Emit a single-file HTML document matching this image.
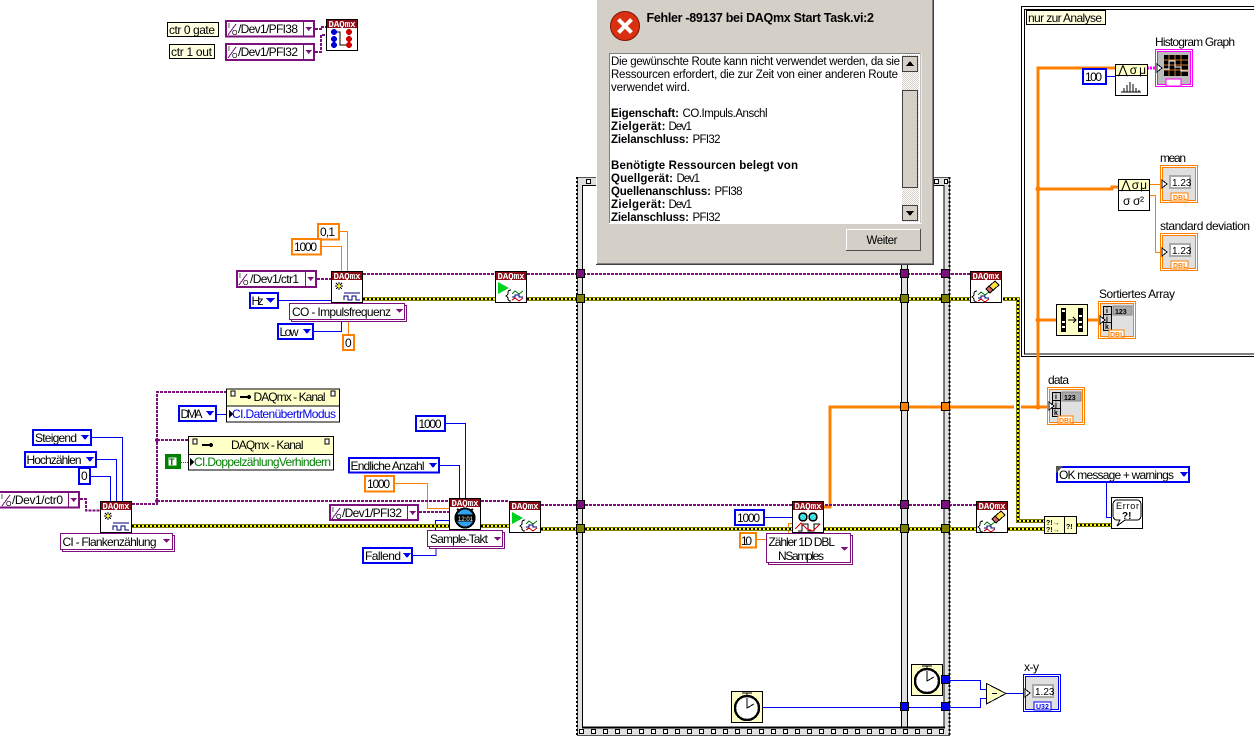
<!DOCTYPE html>
<html><head><meta charset="utf-8"><style>
html,body{margin:0;padding:0;background:#fff;width:1254px;height:751px;overflow:hidden}
svg{display:block;position:absolute;left:0;top:0;shape-rendering:crispEdges}
text{font-family:"Liberation Sans",sans-serif;font-size:12px;fill:#000}
.w{fill:none}
.hd{fill:#fff;font-size:9px;font-weight:bold;font-family:"Liberation Mono",monospace}
.blu{fill:#fff;stroke:#0000f0;stroke-width:2}
.pur{fill:#fff;stroke:#7b0f7b;stroke-width:2}
.org{fill:#fff;stroke:#ff8000;stroke-width:2}
.ring{fill:#fff;stroke:#7b0f7b;stroke-width:1}
.note{fill:#ffffe1;stroke:#000;stroke-width:1}
.d{font-size:11.5px}.b{font-size:11.5px;font-weight:bold}
.ico{fill:#fff;stroke:#000;stroke-width:1}
</style></head><body>
<svg width="1254" height="751" viewBox="0 0 1254 751" xmlns="http://www.w3.org/2000/svg">
<defs>
<pattern id="sq" width="12" height="12" patternUnits="userSpaceOnUse" x="723" y="729"><rect x=".5" y=".5" width="4" height="4" fill="#fff" stroke="#000"/></pattern>
<pattern id="hatch" width="2" height="2" patternUnits="userSpaceOnUse"><rect width="2" height="2" fill="#fff"/><rect width="1" height="1" fill="#d4d0c8"/><rect x="1" y="1" width="1" height="1" fill="#d4d0c8"/></pattern>
</defs>
<rect width="1254" height="751" fill="#fff"/>

<!-- sequence frame -->
<rect x="577.5" y="177.5" width="372" height="558" fill="#e0e0e0" stroke="#555"/>
<path d="M577 177V736M949.5 177V736" stroke="#000" stroke-width="2" stroke-dasharray="2 2" fill="none"/>
<rect x="582.5" y="185.5" width="319" height="541.5" fill="#fff" stroke="#000"/>
<rect x="907.5" y="185.5" width="36.5" height="541.5" fill="#fff" stroke="#000"/>
<path d="M582 727.5H945" stroke="#000" stroke-width="2"/>
<rect x="579" y="729" width="368" height="6" fill="url(#sq)"/>
<rect x="586.5" y="179.5" width="4" height="4" fill="#fff" stroke="#000"/>
<rect x="934.5" y="179.5" width="4" height="4" fill="#fff" stroke="#000"/>
<rect x="944.5" y="179.5" width="3" height="4" fill="#fff" stroke="#000"/>

<!-- analysis box -->
<rect x="1021.5" y="6.5" width="240" height="350" fill="#fff" stroke="#000"/>
<rect x="1024.5" y="9.5" width="240" height="344.5" fill="#fff" stroke="#000"/>

<!-- thin wires -->
<g class="w" stroke="#ff8000" stroke-width="1" fill="none">
<path d="M340 231.5H347.5V271M322 246.5H341.5V271M348.5 334V320M395 483.5H427.5V508.5H449M757 539.5H766M788.5 533V523.5H792M1150 184.5H1160M1150 195.5H1155.5V252.5H1160"/>
</g>
<g class="w" stroke="#ff8000" stroke-width="2.6" fill="none">
<path d="M824 507H830V407H1047M1038 407V68H1115M1038 189H1112V187H1118M1038 320H1056M1088 320H1098"/>
</g>
<circle cx="1038" cy="189" r="2.5" fill="#ff8000"/><circle cx="1038" cy="320" r="2.5" fill="#ff8000"/><circle cx="1038" cy="407" r="2.5" fill="#ff8000"/>
<g class="w" stroke="#0000f0" stroke-width="1" fill="none">
<path d="M92 437.5H122.5V501M97 459.5H116.5V501M91 476.5H110.5V501M217 414.5H226M279 300.5H331M314 331.5H341.5V321M446 423.5H465.5V498M440 465.5H459.5V498M413 555.5H436V547M435.5 530V520.5H449M765 517.5H792M1107 76.5H1115M1106.5 483V517.5H1111M1006 693.5H1024"/>
</g>
<g class="w" stroke="#0000f0" stroke-width="1" fill="none"><path d="M763 707.5H980.5V698.5H986M945 680.5H980.5V689.5H986"/></g>
<path d="M181 462.5H188" stroke="#008000" stroke-dasharray="1 1" fill="none"/>
<path d="M1147 68H1156" stroke="#ff00ff" stroke-width="3" stroke-dasharray="2 1" fill="none"/>

<!-- task wires -->
<g class="w" stroke="#7b0f7b" stroke-width="2" stroke-dasharray="3 1" fill="none">
<path d="M315 29H322V27H326M315 52H321V35H326M317 279H331M80 499H86V510.5H100M132 504H157V392H226M157 440H188M157 501H449M419 512H449M481 501H509M541 505H976M363 274H495M527 274H970"/>
</g>
<circle cx="157" cy="440" r="2" fill="#7b0f7b"/><circle cx="157" cy="501" r="2" fill="#7b0f7b"/>
<!-- error wires -->
<path d="M1009 299H1017.5V521H1044" stroke="#fff" stroke-width="7" fill="none"/>
<g fill="none">
<path stroke="#808000" stroke-width="4" d="M132 526H449M481 526H509M541 529H792M824 529H976M1008 529H1044M1076 525H1111M363 299H495M527 299H970M1003 299H1018V521H1044"/>
<path stroke="#ffff00" stroke-width="2" d="M132 526H449M481 526H509M541 529H792M824 529H976M1008 529H1044M1076 525H1111M363 299H495M527 299H970M1003 299H1018V521H1044"/>
<path stroke="#000" stroke-width="2" stroke-dasharray="2 2" d="M132 526H449M481 526H509M541 529H792M824 529H976M1008 529H1044M1076 525H1111M363 299H495M527 299H970M1003 299H1018V521H1044"/>
</g>

<!-- tunnels -->
<g stroke="#000">
<g fill="#7b0f7b"><rect x="576.5" y="269.5" width="8" height="8"/><rect x="900.5" y="269.5" width="8" height="8"/><rect x="941.5" y="269.5" width="8" height="8"/><rect x="576.5" y="500.5" width="8" height="8"/><rect x="900.5" y="500.5" width="8" height="8"/><rect x="941.5" y="500.5" width="8" height="8"/></g>
<g fill="#808000"><rect x="576.5" y="294.5" width="8" height="8"/><rect x="900.5" y="294.5" width="8" height="8"/><rect x="941.5" y="294.5" width="8" height="8"/><rect x="576.5" y="524.5" width="8" height="8"/><rect x="900.5" y="524.5" width="8" height="8"/><rect x="941.5" y="524.5" width="8" height="8"/></g>
<g fill="#ff8000"><rect x="900.5" y="402.5" width="8" height="8"/><rect x="941.5" y="402.5" width="8" height="8"/></g>
<g fill="#0000f0"><rect x="900.5" y="702.5" width="8" height="8"/><rect x="941.5" y="702.5" width="8" height="8"/></g>
</g>

<!-- notes -->
<rect class="note" x="167.5" y="22.5" width="51" height="14"/><text x="169" y="34" textLength="46">ctr 0 gate</text>
<rect class="note" x="169.5" y="44.5" width="45" height="14"/><text x="171" y="56" textLength="41">ctr 1 out</text>
<rect class="note" x="1026.5" y="10.5" width="79" height="14"/><text x="1028" y="22" textLength="74">nur zur Analyse</text>

<!-- purple IO constants -->
<g>
<rect class="pur" x="226" y="21" width="88" height="15.5"/><path d="M303.5 21V36" stroke="#7b0f7b"/><path d="M305.5 27H312L308.7 31Z" fill="#7b0f7b"/><text x="238" y="33" textLength="60">/Dev1/PFI38</text><text x="228" y="28" style="font-size:7px">I</text><path d="M236 24L228 35" stroke="#7b0f7b"/><text x="232" y="35" style="font-size:7px">O</text>
<rect class="pur" x="226" y="44" width="88" height="16"/><path d="M303.5 44V60" stroke="#7b0f7b"/><path d="M305.5 50H312L308.7 54Z" fill="#7b0f7b"/><text x="238" y="56" textLength="60">/Dev1/PFI32</text><text x="228" y="51" style="font-size:7px">I</text><path d="M236 47L228 58" stroke="#7b0f7b"/><text x="232" y="58" style="font-size:7px">O</text>
<rect class="pur" x="237" y="271" width="79" height="16"/><path d="M305.5 271V287" stroke="#7b0f7b"/><path d="M307.5 277H314L310.7 281Z" fill="#7b0f7b"/><text x="250" y="283" textLength="49">/Dev1/ctr1</text><text x="239" y="278" style="font-size:7px">I</text><path d="M247 274L239 285" stroke="#7b0f7b"/><text x="243" y="285" style="font-size:7px">O</text>
<rect class="pur" x="-2" y="492" width="81" height="15.5"/><path d="M68.5 492V507" stroke="#7b0f7b"/><path d="M70.5 498H77L73.7 502Z" fill="#7b0f7b"/><text x="12" y="504" textLength="51">/Dev1/ctr0</text><text x="1" y="499" style="font-size:7px">I</text><path d="M10 495L2 506" stroke="#7b0f7b"/><text x="6" y="506" style="font-size:7px">O</text>
<rect class="pur" x="330" y="505" width="88" height="15"/><path d="M407.5 505V520" stroke="#7b0f7b"/><path d="M409.5 511H416L412.7 515Z" fill="#7b0f7b"/><text x="342" y="517" textLength="60">/Dev1/PFI32</text><text x="332" y="512" style="font-size:7px">I</text><path d="M340 508L332 519" stroke="#7b0f7b"/><text x="336" y="519" style="font-size:7px">O</text>
</g>

<!-- orange constants -->
<rect class="org" x="318" y="224" width="21" height="15.5"/><text x="320" y="236" textLength="15">0,1</text>
<rect class="org" x="292" y="239" width="29" height="15.5"/><text x="294" y="251" textLength="23">1000</text>
<rect class="org" x="343" y="335" width="11" height="15"/><text x="345" y="347" textLength="7">0</text>
<rect class="org" x="365" y="476" width="29" height="15.5"/><text x="367" y="488" textLength="23">1000</text>
<rect class="org" x="740" y="533" width="16" height="14.5"/><text x="741" y="545" textLength="11">10</text>

<!-- blue constants -->
<rect class="blu" x="250" y="293" width="28" height="15"/><text x="251.5" y="305" textLength="12">Hz</text><path d="M266 298H275L270.5 303Z" fill="#0000f0"/>
<rect class="blu" x="278" y="324" width="35" height="15"/><text x="279.5" y="336" textLength="19">Low</text><path d="M303 329H311L307 334Z" fill="#0000f0"/>
<rect class="blu" x="33" y="430" width="58" height="15"/><text x="35" y="442" textLength="42">Steigend</text><path d="M81 435H89L85 440Z" fill="#0000f0"/>
<rect class="blu" x="25" y="452" width="71" height="15"/><text x="26.5" y="464" textLength="55">Hochzählen</text><path d="M86 457H94L90 462Z" fill="#0000f0"/>
<rect class="blu" x="79" y="468" width="11" height="16"/><text x="81" y="480" textLength="7">0</text>
<rect class="blu" x="179" y="406" width="37" height="15"/><text x="180.5" y="418" textLength="22">DMA</text><path d="M206 411H214L210 416Z" fill="#0000f0"/>
<rect class="blu" x="416" y="416" width="29" height="15"/><text x="418.5" y="428" textLength="23">1000</text>
<rect class="blu" x="349" y="458" width="90" height="14.5"/><text x="350.5" y="470" textLength="74">Endliche Anzahl</text><path d="M429 463H437L433 468Z" fill="#0000f0"/>
<rect class="blu" x="363" y="548" width="49" height="15"/><text x="365" y="560" textLength="36">Fallend</text><path d="M403 553H411L407 558Z" fill="#0000f0"/>
<rect class="blu" x="735" y="510" width="29" height="15"/><text x="737" y="522" textLength="23">1000</text>
<rect class="blu" x="1057" y="467" width="132" height="15"/><text x="1059" y="479" textLength="115">OK message + warnings</text><path d="M1180 472H1188L1184 477Z" fill="#0000f0"/><path d="M1056 466H1063L1056 473Z" fill="#555"/>
<rect class="blu" x="1083" y="69" width="23" height="15"/><text x="1085" y="81" textLength="17">100</text>

<!-- rings -->
<rect class="ring" x="291.5" y="305.5" width="115" height="16"/><rect class="ring" x="289.5" y="303.5" width="115" height="16"/><text x="292" y="316" textLength="99">CO - Impulsfrequenz</text><path d="M396 309H403L399.5 313Z" fill="#7b0f7b"/>
<rect class="ring" x="62.5" y="535.5" width="112" height="16"/><rect class="ring" x="60.5" y="533.5" width="112" height="16"/><text x="62.5" y="546" textLength="94">CI - Flankenzählung</text><path d="M163 539H170L166.5 543Z" fill="#7b0f7b"/>
<rect class="ring" x="429.5" y="532.5" width="75" height="16"/><rect class="ring" x="427.5" y="530.5" width="75" height="16"/><text x="430" y="543" textLength="58">Sample-Takt</text><path d="M494 537H501L497.5 541Z" fill="#7b0f7b"/>
<rect class="ring" x="768.5" y="535.5" width="84" height="29"/><rect class="ring" x="766.5" y="533.5" width="84" height="29"/><text x="768.5" y="546" textLength="66.5">Zähler 1D DBL</text><text x="778" y="560" textLength="46">NSamples</text><path d="M841 547H848L844.5 551Z" fill="#7b0f7b"/>

<!-- property nodes -->
<rect x="226.5" y="389" width="113" height="33" fill="#fff" stroke="#000"/><rect x="227" y="389.5" width="112" height="16.5" fill="#ffffc8"/><path d="M227 406H339" stroke="#000"/>
<text x="253.5" y="401" textLength="72">DAQmx - Kanal</text><path d="M240 397H247" stroke="#000" stroke-width="2"/><circle cx="249" cy="397" r="2" fill="#000"/><rect x="231" y="391" width="4" height="5" fill="#fff" stroke="#000"/><rect x="331" y="391" width="4" height="5" fill="#fff" stroke="#000"/>
<path d="M229 410V418L233 414Z" fill="#000"/><text x="232" y="418" textLength="104" style="fill:#0000f0">CI.DatenübertrModus</text>
<rect x="188.5" y="436.5" width="145" height="33.5" fill="#fff" stroke="#000"/><rect x="189" y="437" width="144" height="17" fill="#ffffc8"/><path d="M189 454.5H333" stroke="#000"/>
<text x="231" y="449" textLength="72.5">DAQmx - Kanal</text><path d="M202 445H209" stroke="#000" stroke-width="2"/><circle cx="211" cy="445" r="2" fill="#000"/><rect x="193" y="439" width="4" height="5" fill="#fff" stroke="#000"/><rect x="325" y="439" width="4" height="5" fill="#fff" stroke="#000"/>
<path d="M190 458V466L194 462Z" fill="#000"/><text x="194" y="466" textLength="137" style="fill:#008000">CI.DoppelzählungVerhindern</text>
<rect x="165" y="454" width="16" height="15" fill="#008000"/><rect x="168" y="457" width="9" height="9" fill="#fff" stroke="#008000"/><text x="169" y="465" style="font-size:9px;font-weight:bold;fill:#006000">T</text>

<!-- DAQmx nodes -->
<g transform="translate(326,19)"><rect class="ico" x=".5" y=".5" width="31" height="31"/><rect x="1" y="1" width="30" height="8" fill="#8b0a14"/><text class="hd" x="2.5" y="8" textLength="27">DAQmx</text><g fill="#0000d0"><circle cx="8" cy="13" r="3"/><circle cx="8" cy="20" r="3"/><circle cx="8" cy="26" r="3"/></g><g fill="#d00000"><circle cx="23" cy="13" r="3"/><circle cx="23" cy="20" r="3"/><circle cx="23" cy="26" r="3"/></g><path d="M11 13H14V26H20" fill="none" stroke="#000"/></g>

<g transform="translate(331,271)"><rect class="ico" x=".5" y=".5" width="31" height="31"/><rect x="1" y="1" width="30" height="8" fill="#8b0a14"/><text class="hd" x="2.5" y="8" textLength="27">DAQmx</text><path d="M4 15H12M8 11V19M5 12L11 18M11 12L5 18" stroke="#000"/><circle cx="8" cy="15" r="1.6" fill="#ffff00"/><path d="M13 22H29M13 29V25H17V29H21V25H25V29H29" fill="none" stroke="#000080"/></g>
<g transform="translate(100,501)"><rect class="ico" x=".5" y=".5" width="31" height="31"/><rect x="1" y="1" width="30" height="8" fill="#8b0a14"/><text class="hd" x="2.5" y="8" textLength="27">DAQmx</text><path d="M4 15H12M8 11V19M5 12L11 18M11 12L5 18" stroke="#000"/><circle cx="8" cy="15" r="1.6" fill="#ffff00"/><path d="M13 22H29M13 29V25H17V29H21V25H25V29H29" fill="none" stroke="#000080"/></g>

<g transform="translate(495,271)"><rect class="ico" x=".5" y=".5" width="31" height="31"/><rect x="1" y="1" width="30" height="8" fill="#8b0a14"/><text class="hd" x="2.5" y="8" textLength="27">DAQmx</text><path d="M3 11L14 17L3 23Z" fill="#00d020"/><path d="M16 19Q13 19 13 22Q13 24 11 25Q13 26 13 28Q13 30 16 30" fill="none" stroke="#000"/><path d="M17 23L20 20L24 23L28 20" fill="none" stroke="#008000"/><path d="M17 26H20V24H24V26H28" fill="none" stroke="#000080"/><path d="M17 29L20 27L24 30L28 27" fill="none" stroke="#d00000"/></g>
<g transform="translate(509,501)"><rect class="ico" x=".5" y=".5" width="31" height="31"/><rect x="1" y="1" width="30" height="8" fill="#8b0a14"/><text class="hd" x="2.5" y="8" textLength="27">DAQmx</text><path d="M3 11L14 17L3 23Z" fill="#00d020"/><path d="M16 19Q13 19 13 22Q13 24 11 25Q13 26 13 28Q13 30 16 30" fill="none" stroke="#000"/><path d="M17 23L20 20L24 23L28 20" fill="none" stroke="#008000"/><path d="M17 26H20V24H24V26H28" fill="none" stroke="#000080"/><path d="M17 29L20 27L24 30L28 27" fill="none" stroke="#d00000"/></g>

<g transform="translate(970,271)"><rect class="ico" x=".5" y=".5" width="31" height="31"/><rect x="1" y="1" width="30" height="8" fill="#8b0a14"/><text class="hd" x="2.5" y="8" textLength="27">DAQmx</text><path d="M7 20Q4 20 4 23Q4 25 2 26Q4 27 4 29Q4 31 7 31" fill="none" stroke="#000"/><path d="M8 24L11 21L15 24L19 21" fill="none" stroke="#008000"/><path d="M8 27H11V25H15V27H19" fill="none" stroke="#000080"/><path d="M8 30L11 28L15 31L19 28" fill="none" stroke="#d00000"/><path d="M16 18L25 10L29 14L20 22Z" fill="#ffe040" stroke="#000"/><path d="M16 18L19 15L23 19L20 22Z" fill="#e06060" stroke="#000"/></g>
<g transform="translate(976,501)"><rect class="ico" x=".5" y=".5" width="31" height="31"/><rect x="1" y="1" width="30" height="8" fill="#8b0a14"/><text class="hd" x="2.5" y="8" textLength="27">DAQmx</text><path d="M7 20Q4 20 4 23Q4 25 2 26Q4 27 4 29Q4 31 7 31" fill="none" stroke="#000"/><path d="M8 24L11 21L15 24L19 21" fill="none" stroke="#008000"/><path d="M8 27H11V25H15V27H19" fill="none" stroke="#000080"/><path d="M8 30L11 28L15 31L19 28" fill="none" stroke="#d00000"/><path d="M16 18L25 10L29 14L20 22Z" fill="#ffe040" stroke="#000"/><path d="M16 18L19 15L23 19L20 22Z" fill="#e06060" stroke="#000"/></g>

<g transform="translate(449,498)"><rect class="ico" x=".5" y=".5" width="31" height="31"/><rect x="1" y="1" width="30" height="8" fill="#8b0a14"/><text class="hd" x="2.5" y="8" textLength="27">DAQmx</text><circle cx="16" cy="20" r="9.5" fill="#30a0f0" stroke="#000" stroke-width="2"/><rect x="7" y="16.5" width="18" height="7" fill="#000"/><text x="9" y="23" style="font-size:6px;fill:#fff">12:01</text><path d="M8 11L11 13M24 11L21 13" stroke="#000" stroke-width="2"/></g>

<g transform="translate(792,501)"><rect class="ico" x=".5" y=".5" width="31" height="31"/><rect x="1" y="1" width="30" height="8" fill="#8b0a14"/><text class="hd" x="2.5" y="8" textLength="27">DAQmx</text><circle cx="11" cy="16" r="4" fill="#40e0e0" stroke="#000" stroke-width="1.5"/><circle cx="21" cy="16" r="4" fill="#40e0e0" stroke="#000" stroke-width="1.5"/><path d="M6 30H10V23H16V30H22V23H28" fill="none" stroke="#000" stroke-width="1.2"/><path d="M3 28L9 22L15 28L21 30L28 23" fill="none" stroke="#e00000" stroke-width="1.2"/></g>

<!-- histogram / stats nodes -->
<rect class="ico" x="1115.5" y="64.5" width="32" height="31"/><rect x="1116" y="65" width="31" height="10" fill="#ffffc8"/><path d="M1116 75.5H1147" stroke="#000"/><text x="1118" y="74" textLength="28">⋀σμ</text><path d="M1121 92H1141M1124 92V88M1127 92V85M1130 92V82M1133 92V84M1136 92V88M1139 92V90" stroke="#000"/>
<rect class="ico" x="1118.5" y="179.5" width="31" height="31"/><rect x="1119" y="180" width="30" height="10" fill="#ffffc8"/><path d="M1119 190.5H1149" stroke="#000"/><text x="1121" y="189" textLength="26">⋀σμ</text><text x="1123" y="205" textLength="21">σ σ²</text>
<rect x="1056.5" y="304.5" width="31" height="31" fill="#ffffc8" stroke="#000"/><rect x="1061" y="308" width="5" height="24" fill="#000"/><rect x="1078" y="308" width="5" height="24" fill="#000"/><path d="M1062 311H1065M1062 322H1065M1062 327H1065M1079 316H1082M1079 322H1082M1079 327H1082" stroke="#fff" stroke-width="2"/><path d="M1068 320H1076M1073 317L1076 320L1073 323" fill="none" stroke="#000"/>

<rect x="1044.5" y="516.5" width="32" height="17" fill="#ffffc8" stroke="#000"/><path d="M1064.5 517V533" stroke="#000"/><text x="1046" y="525" style="font-size:7px;font-weight:bold">?!→</text><text x="1046" y="532" style="font-size:7px;font-weight:bold">?!→</text><text x="1066" y="529" style="font-size:7px;font-weight:bold">?!</text>

<g transform="translate(1111,497)"><rect class="ico" x=".5" y=".5" width="31" height="31"/><path d="M6 3H26Q30 3 30 8V18Q30 23 26 23H14L6 29L9 23H6Q2 23 2 18V8Q2 3 6 3Z" fill="#fff" stroke="#000"/><text x="5" y="12" style="font-size:9px" textLength="23">Error</text><text x="11" y="22" style="font-size:10px;font-weight:bold">?!</text></g>

<!-- timers -->
<g transform="translate(731,691)"><rect x=".5" y=".5" width="31" height="31" fill="#ffffc8" stroke="#000"/><circle cx="16" cy="17" r="12" fill="#fff" stroke="#000" stroke-width="2.4"/><path d="M16 7V17L23 13M11 2H21M16 2V5" stroke="#000" fill="none"/></g>
<g transform="translate(911,664)"><rect x=".5" y=".5" width="31" height="31" fill="#ffffc8" stroke="#000"/><circle cx="16" cy="17" r="12" fill="#fff" stroke="#000" stroke-width="2.4"/><path d="M16 7V17L23 13M11 2H21M16 2V5" stroke="#000" fill="none"/></g>
<rect x="941.5" y="675.5" width="8" height="8" fill="#0000f0" stroke="#000"/>
<path d="M986.5 683.5V704L1006 693.5Z" fill="#ffffc8" stroke="#000"/><path d="M992 693.5H997" stroke="#000"/>

<!-- terminals -->
<g transform="translate(1023,674)"><rect x=".5" y=".5" width="37" height="37" fill="#fff" stroke="#0000f0"/><rect x="2.5" y="2.5" width="33" height="33" fill="#e0e0e0" stroke="#0000f0"/><rect x="9" y="10" width="22" height="14" fill="#aaa"/><rect x="11" y="12" width="18" height="10" fill="#fff"/><text x="12" y="21" style="font-size:10px">1.23</text><rect x="11" y="28" width="17" height="8" fill="#fff" stroke="#0000f0"/><text x="13" y="35" style="font-size:7px;font-weight:bold;fill:#0000f0">U32</text><path d="M2 15L7 19L2 23Z" fill="#fff" stroke="#000"/></g>
<g transform="translate(1160,165)"><rect x=".5" y=".5" width="37" height="37" fill="#fff" stroke="#ff8000"/><rect x="2.5" y="2.5" width="33" height="33" fill="#e0e0e0" stroke="#ff8000"/><rect x="9" y="10" width="22" height="14" fill="#aaa"/><rect x="11" y="12" width="18" height="10" fill="#fff"/><text x="12" y="21" style="font-size:10px">1.23</text><rect x="11" y="28" width="17" height="8" fill="#fff" stroke="#ff8000"/><text x="13" y="35" style="font-size:7px;font-weight:bold;fill:#ff8000">DBL</text><path d="M2 15L7 19L2 23Z" fill="#fff" stroke="#000"/></g>
<g transform="translate(1160,233)"><rect x=".5" y=".5" width="37" height="37" fill="#fff" stroke="#ff8000"/><rect x="2.5" y="2.5" width="33" height="33" fill="#e0e0e0" stroke="#ff8000"/><rect x="9" y="10" width="22" height="14" fill="#aaa"/><rect x="11" y="12" width="18" height="10" fill="#fff"/><text x="12" y="21" style="font-size:10px">1.23</text><rect x="11" y="28" width="17" height="8" fill="#fff" stroke="#ff8000"/><text x="13" y="35" style="font-size:7px;font-weight:bold;fill:#ff8000">DBL</text><path d="M2 15L7 19L2 23Z" fill="#fff" stroke="#000"/></g>

<g transform="translate(1098,301)"><rect x=".5" y=".5" width="37" height="37" fill="#fff" stroke="#ff8000"/><rect x="2.5" y="2.5" width="33" height="33" fill="#e0e0e0" stroke="#ff8000"/><g fill="#ccc" stroke="#000"><rect x="5.5" y="5.5" width="8" height="8"/><rect x="5.5" y="13.5" width="8" height="8"/><rect x="5.5" y="21.5" width="8" height="8"/></g><text x="8" y="12" style="font-size:7px;font-weight:bold">i</text><text x="8" y="20" style="font-size:7px;font-weight:bold">j</text><text x="7" y="28" style="font-size:7px;font-weight:bold">k</text><rect x="15" y="5" width="19" height="9" fill="#aaa" stroke="#888"/><text x="17" y="13" style="font-size:7px;font-weight:bold">123</text><rect x="11" y="29" width="15" height="8" fill="#fff" stroke="#ff8000"/><text x="12" y="36" style="font-size:7px;font-weight:bold;fill:#ff8000">DBL</text><path d="M2 15L7 19L2 23Z" fill="#fff" stroke="#000"/></g>
<g transform="translate(1047,387)"><rect x=".5" y=".5" width="37" height="37" fill="#fff" stroke="#ff8000"/><rect x="2.5" y="2.5" width="33" height="33" fill="#e0e0e0" stroke="#ff8000"/><g fill="#ccc" stroke="#000"><rect x="5.5" y="5.5" width="8" height="8"/><rect x="5.5" y="13.5" width="8" height="8"/><rect x="5.5" y="21.5" width="8" height="8"/></g><text x="8" y="12" style="font-size:7px;font-weight:bold">i</text><text x="8" y="20" style="font-size:7px;font-weight:bold">j</text><text x="7" y="28" style="font-size:7px;font-weight:bold">k</text><rect x="15" y="5" width="19" height="9" fill="#aaa" stroke="#888"/><text x="17" y="13" style="font-size:7px;font-weight:bold">123</text><rect x="11" y="29" width="15" height="8" fill="#fff" stroke="#ff8000"/><text x="12" y="36" style="font-size:7px;font-weight:bold;fill:#ff8000">DBL</text><path d="M2 15L7 19L2 23Z" fill="#fff" stroke="#000"/></g>

<g transform="translate(1155,49)"><rect x=".5" y=".5" width="37" height="37" fill="#fff" stroke="#ff00ff"/><rect x="2.5" y="2.5" width="33" height="33" fill="#bbb" stroke="#ff00ff"/><rect x="9" y="6" width="24" height="21" fill="#000"/><path d="M9 11H33M9 16H33M9 21H33M14 6V27M20 6V27M26 6V27" stroke="#c87830"/><path d="M9 20H14V12H20V18H26V22H33" fill="none" stroke="#fff"/><rect x="11" y="30" width="15" height="7" fill="#fff" stroke="#ff00ff"/><path d="M2 15L7 19L2 23Z" fill="#fff" stroke="#000"/></g>

<!-- labels -->
<text x="1155" y="46" textLength="80">Histogram Graph</text>
<text x="1160" y="162" textLength="26">mean</text>
<text x="1160" y="230" textLength="90">standard deviation</text>
<text x="1099" y="298" textLength="76">Sortiertes Array</text>
<text x="1048" y="384" textLength="21">data</text>
<text x="1024" y="671" textLength="15">x-y</text>

<!-- dialog -->
<rect x="596" y="-4" width="338" height="269" fill="#d4d0c8"/>
<path d="M596.5 0V264" stroke="#fff"/><path d="M933.5 0V264.5H596" stroke="#404040" fill="none"/><path d="M932.5 0V263.5H597" stroke="#808080" fill="none"/>
<g style="shape-rendering:geometricPrecision"><circle cx="625" cy="26" r="14.5" fill="#d83010" stroke="#801000"/><path d="M618.5 19.5L631.5 32.5M631.5 19.5L618.5 32.5" stroke="#fff" stroke-width="4"/></g>
<text x="646.5" y="22" textLength="227.5" style="font-size:12.5px;font-weight:bold">Fehler -89137 bei DAQmx Start Task.vi:2</text>
<rect x="609.5" y="53.5" width="311" height="170" fill="#fff" stroke="#808080"/><path d="M609 223.5H921V53" stroke="#fff" fill="none"/>
<text class="d" x="611" y="65" textLength="289">Die gewünschte Route kann nicht verwendet werden, da sie</text>
<text class="d" x="611" y="78" textLength="287">Ressourcen erfordert, die zur Zeit von einer anderen Route</text>
<text class="d" x="611" y="91" textLength="79">verwendet wird.</text>
<text class="b" x="611" y="117" textLength="68">Eigenschaft:</text><text class="d" x="682.5" y="117" textLength="85">CO.Impuls.Anschl</text>
<text class="b" x="611" y="130" textLength="54.5">Zielgerät:</text><text class="d" x="668.5" y="130" textLength="23.5">Dev1</text>
<text class="b" x="611" y="143" textLength="78">Zielanschluss:</text><text class="d" x="692.5" y="143" textLength="28">PFI32</text>
<text class="b" x="611" y="169" textLength="187">Benötigte Ressourcen belegt von</text>
<text class="b" x="611" y="182" textLength="62">Quellgerät:</text><text class="d" x="676.5" y="182" textLength="23.5">Dev1</text>
<text class="b" x="611" y="195" textLength="100">Quellenanschluss:</text><text class="d" x="714.5" y="195" textLength="28">PFI38</text>
<text class="b" x="611" y="208" textLength="54.5">Zielgerät:</text><text class="d" x="668.5" y="208" textLength="23.5">Dev1</text>
<text class="b" x="611" y="221" textLength="78">Zielanschluss:</text><text class="d" x="692.5" y="221" textLength="28">PFI32</text>
<rect x="902" y="55" width="17" height="167" fill="url(#hatch)"/>
<rect x="902.5" y="56.5" width="15" height="15" fill="#d4d0c8" stroke="#404040"/><path d="M906 66H914L910 61Z" fill="#000"/>
<rect x="902.5" y="90.5" width="15" height="97" fill="#d4d0c8" stroke="#404040"/>
<rect x="902.5" y="205.5" width="15" height="15" fill="#d4d0c8" stroke="#404040"/><path d="M906 211H914L910 216Z" fill="#000"/>
<rect x="846.5" y="229.5" width="74" height="21" fill="#d4d0c8" stroke="#505050"/><path d="M846.5 250V229.5H920" stroke="#fff" fill="none"/>
<text class="d" x="866.5" y="244" textLength="31">Weiter</text>
</svg>
</body></html>
